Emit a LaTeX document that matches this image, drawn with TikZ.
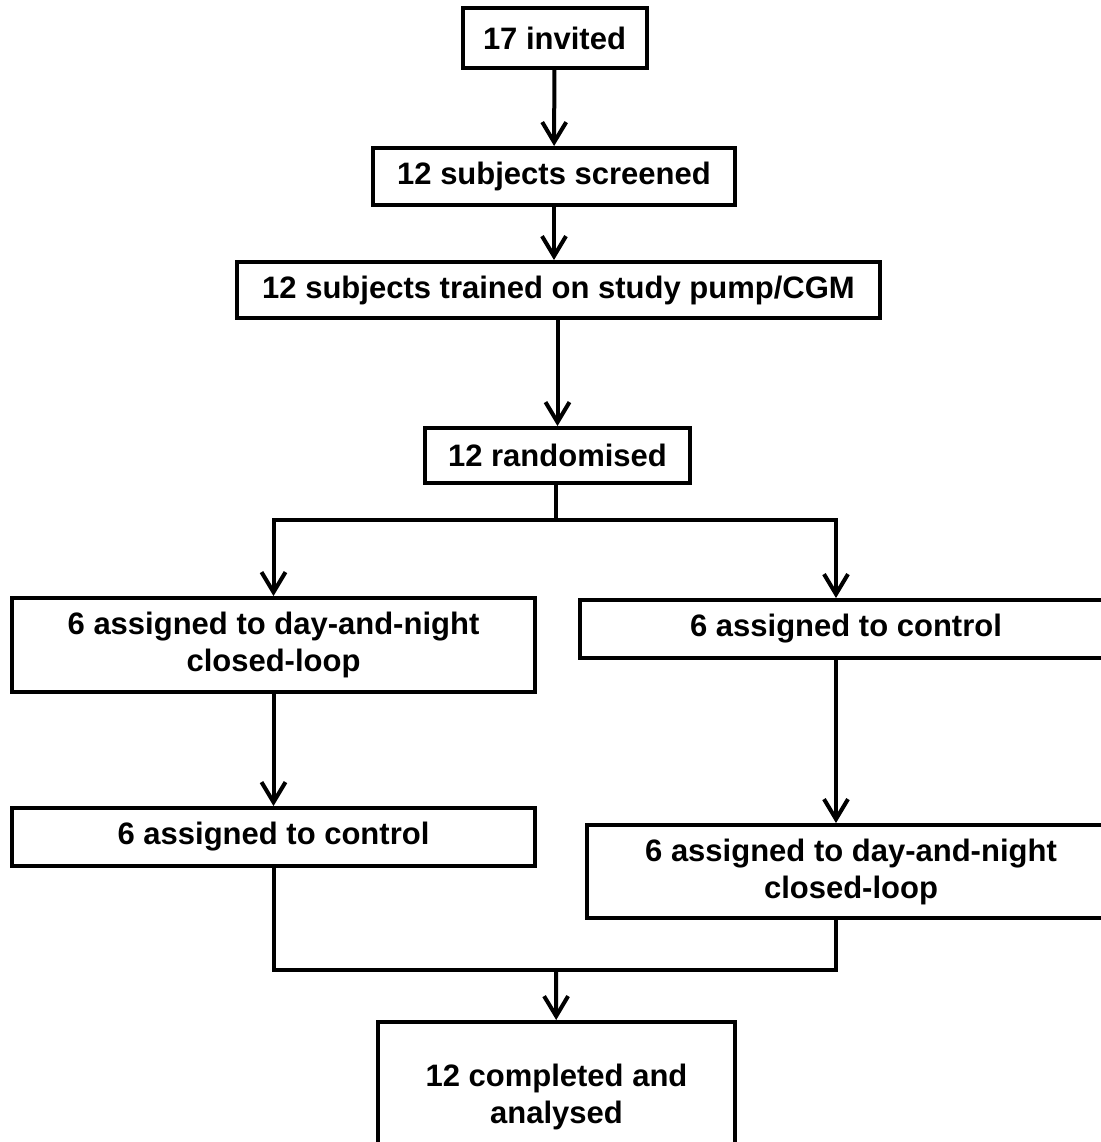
\documentclass[tikz,border=0pt]{standalone}
\usepackage{fontspec}
\setmainfont{Liberation Sans}
\usetikzlibrary{arrows.meta}
\begin{document}
\begin{tikzpicture}[x=0.5pt,y=-0.5pt,line width=2pt,
  box/.style={draw,line width=2pt,align=center,inner sep=0pt,
    font=\fontsize{15.5}{18.5}\selectfont\bfseries},
  arr/.style={-{Straight Barb[length=10pt,width=12pt]}}]
\useasboundingbox (0,0) rectangle (1100,1142);
\node[box,minimum width=92pt,minimum height=30pt] (inv) at (554.5,38) {17 invited};
\node[box,minimum width=181pt,minimum height=28.5pt] (scr) at (554,176.5) {12 subjects screened};
\node[box,minimum width=321.5pt,minimum height=28pt] (trn) at (558.5,290) {12 subjects trained on study pump/CGM};
\node[box,minimum width=132.5pt,minimum height=27.5pt] (rnd) at (557.5,455.5) {12 randomised};
\node[box,minimum width=261.5pt,minimum height=47pt] (a1) at (273.5,645) {6 assigned to day-and-night\\closed-loop};
\node[box,minimum width=266pt,minimum height=29pt] (b1) at (846,629) {6 assigned to control};
\node[box,minimum width=261.5pt,minimum height=29pt] (a2) at (273.5,837) {6 assigned to control};
\node[box,minimum width=264pt,minimum height=46.5pt] (b2) at (851,871.5) {6 assigned to day-and-night\\closed-loop};
\node[box,minimum width=178.5pt,minimum height=75pt] (fin) at (556.5,1097) {12 completed and\\analysed};
\coordinate (split) at (556,520);
\coordinate (rcol) at (836,520);
\coordinate (join) at (556,970);
\draw[arr] (inv) -- (scr);
\draw[arr] (scr) -- (scr |- trn.north);
\draw[arr] (trn.south -| rnd) -- (rnd);
\draw (rnd.south -| split) -- (split);
\draw[arr] (split) -| (a1.north);
\draw[arr] (split) -- (rcol) -- (rcol |- b1.north);
\draw[arr] (a1) -- (a2);
\draw[arr] (rcol |- b1.south) -- (rcol |- b2.north);
\draw (a2.south) |- (join);
\draw (rcol |- b2.south) |- (join);
\draw[arr] (join) -- (fin);
\end{tikzpicture}
\end{document}
